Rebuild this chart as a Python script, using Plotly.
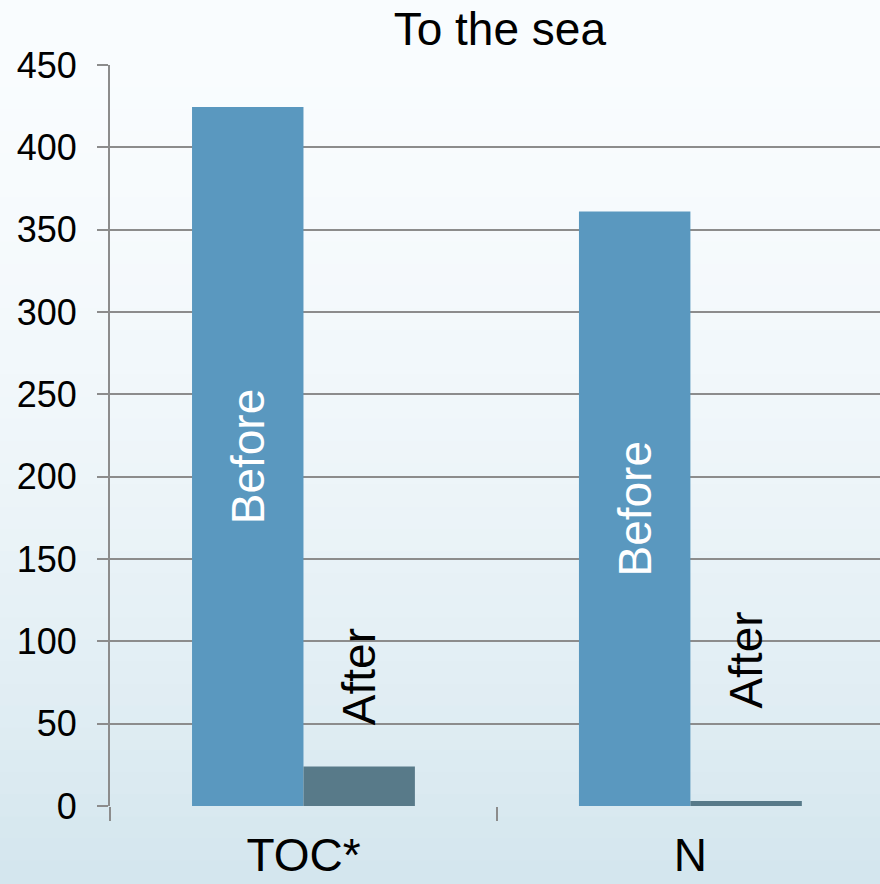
import plotly.graph_objects as go

categories = ["TOC*", "N"]
before_values = [424.5, 361]
after_values = [24, 3]
series_names = ["Before", "After"]
y_ticks = [0, 50, 100, 150, 200, 250, 300, 350, 400, 450]

FONT = "Liberation Sans, Arial, sans-serif"
NB = "\u00a0"

fig = go.Figure()
fig.add_trace(go.Bar(
    x=categories, y=before_values, name=series_names[0],
    text=[series_names[0]] * len(categories),
    textposition="inside", insidetextanchor="middle", textangle=-90,
    insidetextfont=dict(family=FONT, size=46, color="white"),
    marker=dict(color="#5a98bf", line=dict(width=0)),
))
fig.add_trace(go.Bar(
    x=categories, y=after_values, name=series_names[1],
    text=[NB * 3 + series_names[1], NB * 7 + series_names[1]],
    textposition="outside", textangle=-90, constraintext="none",
    outsidetextfont=dict(family=FONT, size=46, color="black"),
    marker=dict(color="#587a89", line=dict(width=0)),
    cliponaxis=False,
))

# background gradient (decoration)
def lerp(c1, c2, t):
    return "#" + "".join(f"{round(a + (b - a) * t):02x}" for a, b in zip(c1, c2))

top = (0xf9, 0xfc, 0xfe)
bot = (0xd4, 0xe6, 0xee)
shapes = []
n = 40
y0p, y1p = -78 / 741, 1 + 65 / 741
x0p = -110 / 770
for i in range(n):
    t = i / (n - 1)
    ya = y1p - (y1p - y0p) * i / n
    yb = y1p - (y1p - y0p) * (i + 1) / n
    shapes.append(dict(type="rect", xref="paper", yref="paper",
                       x0=x0p, x1=1.01, y0=yb - 0.002, y1=ya + 0.002,
                       fillcolor=lerp(top, bot, t ** 1.8),
                       line=dict(width=0), layer="below"))

fig.update_layout(
    width=880, height=884,
    margin=dict(l=110, r=0, t=65, b=78, autoexpand=False),
    paper_bgcolor="#f3f8fb", plot_bgcolor="rgba(0,0,0,0)",
    barmode="group", bargap=0.424, bargroupgap=0,
    showlegend=False,
    shapes=shapes,
    title=dict(text="To the sea", x=0.568, xanchor="center", y=0.967, yanchor="middle",
               font=dict(family=FONT, size=46, color="black")),
    xaxis=dict(range=[-0.5, 1.49], tickson="boundaries", ticks="outside", ticklen=14,
               tickwidth=2, tickcolor="#8c8c8c", showline=False, showgrid=False,
               ticklabelstandoff=18, automargin=False,
               tickfont=dict(family=FONT, size=46, color="black")),
    yaxis=dict(range=[0, 450], tickvals=y_ticks, ticks="outside", ticklen=11,
               tickwidth=2, tickcolor="#8c8c8c", showline=True, linecolor="#8c8c8c",
               linewidth=2, gridcolor="#8c8c8c", gridwidth=2, zeroline=False,
               ticklabelstandoff=13, automargin=False,
               tickfont=dict(family=FONT, size=36, color="black")),
)

fig.write_html("out.html", config={"displayModeBar": False},
               post_script="document.body.style.margin='0';")
